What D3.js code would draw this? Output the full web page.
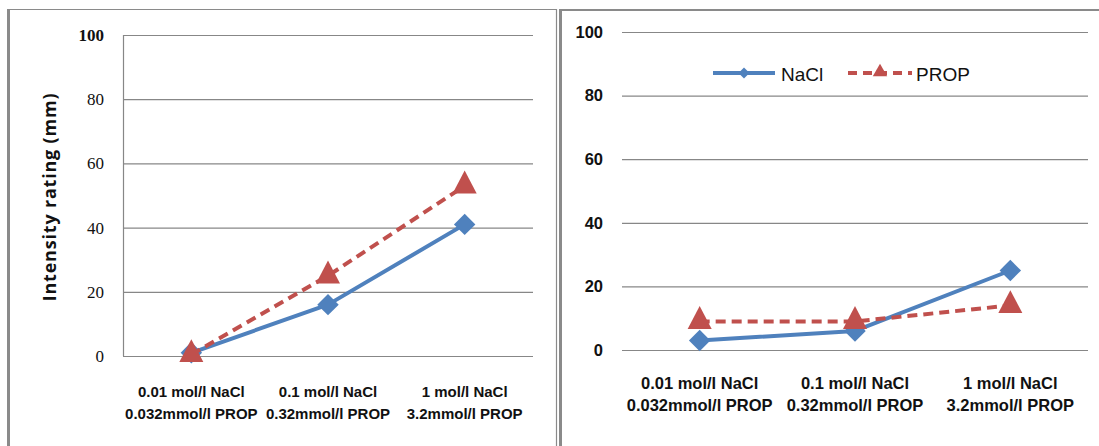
<!DOCTYPE html>
<html>
<head>
<meta charset="utf-8">
<script src="https://cdn.jsdelivr.net/npm/d3@7/dist/d3.min.js"></script>
<style>
  html, body { margin: 0; padding: 0; background: #fff; }
  svg { display: block; }
</style>
</head>
<body>
<script>
// Concentration pairs (two label lines per category)
const categories = ["low", "mid", "high"];
const categoryLine1 = ["0.01 mol/l NaCl", "0.1 mol/l NaCl", "1 mol/l NaCl"];
const categoryLine2 = ["0.032mmol/l PROP", "0.32mmol/l PROP", "3.2mmol/l PROP"];
const yTicks = [0, 20, 40, 60, 80, 100];
const seriesNames = ["NaCl", "PROP"];

// Intensity ratings (mm), left and right panels
const leftNaCl = [1, 16, 41];
const leftPROP = [0.5, 25, 53];
const rightNaCl = [3, 6, 25];
const rightPROP = [9, 9, 14];

const W = 1099, H = 446;
const blue = "#4F81BD", red = "#C0504D", grid = "#878787";

const svg = d3.select("body").append("svg")
  .attr("width", W).attr("height", H)
  .style("font-family", "'Liberation Sans', Arial, sans-serif");
svg.append("rect").attr("width", W).attr("height", H).attr("fill", "#fff");

// Panel frames
const frame = svg.append("g").attr("stroke", "#8a8a8a").attr("fill", "none");
frame.append("line").attr("x1", 8.5).attr("x2", 8.5).attr("y1", 9).attr("y2", H).attr("stroke-width", 3);
frame.append("line").attr("x1", 7).attr("x2", 557).attr("y1", 9.5).attr("y2", 9.5).attr("stroke-width", 1.2);
frame.append("line").attr("x1", 556.5).attr("x2", 556.5).attr("y1", 9).attr("y2", H).attr("stroke-width", 1.2);
frame.append("line").attr("x1", 560.5).attr("x2", 560.5).attr("y1", 9).attr("y2", H).attr("stroke-width", 3);
frame.append("line").attr("x1", 559).attr("x2", W).attr("y1", 10).attr("y2", 10).attr("stroke-width", 2);

const panels = [
  {
    nacl: leftNaCl, prop: leftPROP,
    x0: 123, x1: 533, yTop: 35, yBottom: 356,
    axisLine: true, title: "Intensity rating (mm)",
    tickFont: "'Liberation Serif', 'Times New Roman', serif", tickSize: 17, tickWeight: "normal",
    catSize: 15, line1Y: 397, line2Y: 419, legend: false
  },
  {
    nacl: rightNaCl, prop: rightPROP,
    x0: 622, x1: 1088, yTop: 32, yBottom: 350,
    axisLine: false, title: null,
    tickFont: "'Liberation Sans', Arial, sans-serif", tickSize: 16.5, tickWeight: "bold",
    catSize: 16.5, line1Y: 389, line2Y: 411, legend: true
  }
];

const diamond = s => d3.symbol(d3.symbolSquare, s);
const triangle = s => d3.symbol(d3.symbolTriangle, s);

panels.forEach((p, pi) => {
  const g = svg.append("g");
  const x = d3.scaleBand().domain(categories).range([p.x0, p.x1]);
  const cx = c => x(c) + x.bandwidth() / 2;
  const y = d3.scaleLinear().domain([0, 100]).range([p.yBottom, p.yTop]);

  // Gridlines + tick labels
  const yAxis = d3.axisLeft(y).tickValues(yTicks)
    .tickSize(-(p.x1 - p.x0)).tickPadding(19).tickFormat(d3.format("d"));
  const ax = g.append("g").attr("transform", `translate(${p.x0},0)`).call(yAxis);
  ax.select(".domain").remove();
  ax.selectAll(".tick line").attr("stroke", grid).attr("stroke-width", 1.2);
  ax.selectAll(".tick text")
    .attr("fill", "#111")
    .style("font-family", p.tickFont)
    .style("font-size", p.tickSize + "px")
    .style("font-weight", d => (pi === 0 && d === 100) ? "bold" : p.tickWeight);

  if (p.axisLine) {
    g.append("line").attr("x1", p.x0 + 0.5).attr("x2", p.x0 + 0.5)
      .attr("y1", y(100)).attr("y2", y(0)).attr("stroke", grid).attr("stroke-width", 1.2);
  }

  if (p.title) {
    g.append("text")
      .attr("transform", "translate(56,197) rotate(-90)")
      .attr("text-anchor", "middle")
      .style("font-family", "'Open Sans', 'Liberation Sans', sans-serif")
      .style("font-weight", "bold").style("font-size", "18px")
      .style("letter-spacing", "0.8px")
      .attr("fill", "#111")
      .text(p.title);
  }

  // Category labels
  const cat = g.append("g").attr("text-anchor", "middle")
    .style("font-weight", "bold").style("font-size", p.catSize + "px").attr("fill", "#111");
  cat.selectAll("text.l1").data(categories).join("text").attr("class", "l1")
    .attr("x", cx).attr("y", p.line1Y).text((d, i) => categoryLine1[i]);
  cat.selectAll("text.l2").data(categories).join("text").attr("class", "l2")
    .attr("x", cx).attr("y", p.line2Y).text((d, i) => categoryLine2[i]);

  const line = d3.line().x((d, i) => cx(categories[i])).y(d => y(d));

  // NaCl series
  g.append("path").datum(p.nacl).attr("d", line)
    .attr("fill", "none").attr("stroke", blue).attr("stroke-width", 4).attr("stroke-linejoin", "round");
  g.selectAll("path.dia").data(p.nacl).join("path").attr("class", "dia")
    .attr("d", diamond(230))
    .attr("transform", (d, i) => `translate(${cx(categories[i])},${y(d)}) rotate(45)`)
    .attr("fill", blue);

  // PROP series
  g.append("path").datum(p.prop).attr("d", line)
    .attr("fill", "none").attr("stroke", red).attr("stroke-width", 4)
    .attr("stroke-dasharray", "10,6");
  g.selectAll("path.tri").data(p.prop).join("path").attr("class", "tri")
    .attr("d", triangle(250))
    .attr("transform", (d, i) => `translate(${cx(categories[i])},${y(d)}) scale(1,1.1)`)
    .attr("fill", red);

  if (p.legend) {
    const lg = g.append("g");
    const ly = 73;
    lg.append("line").attr("x1", 713).attr("x2", 775).attr("y1", ly).attr("y2", ly)
      .attr("stroke", blue).attr("stroke-width", 4);
    lg.append("path").attr("d", diamond(60)).attr("transform", `translate(744,${ly}) rotate(45)`).attr("fill", blue);
    lg.append("text").attr("x", 781).attr("y", ly + 8).style("font-size", "19px").attr("fill", "#111").text(seriesNames[0]);
    lg.append("line").attr("x1", 848).attr("x2", 912).attr("y1", ly).attr("y2", ly)
      .attr("stroke", red).attr("stroke-width", 4).attr("stroke-dasharray", "9,6");
    lg.append("path").attr("d", triangle(90)).attr("transform", `translate(880,${ly - 1})`).attr("fill", red);
    lg.append("text").attr("x", 916).attr("y", ly + 8).style("font-size", "19px").attr("fill", "#111").text(seriesNames[1]);
  }
});
</script>
</body>
</html>
